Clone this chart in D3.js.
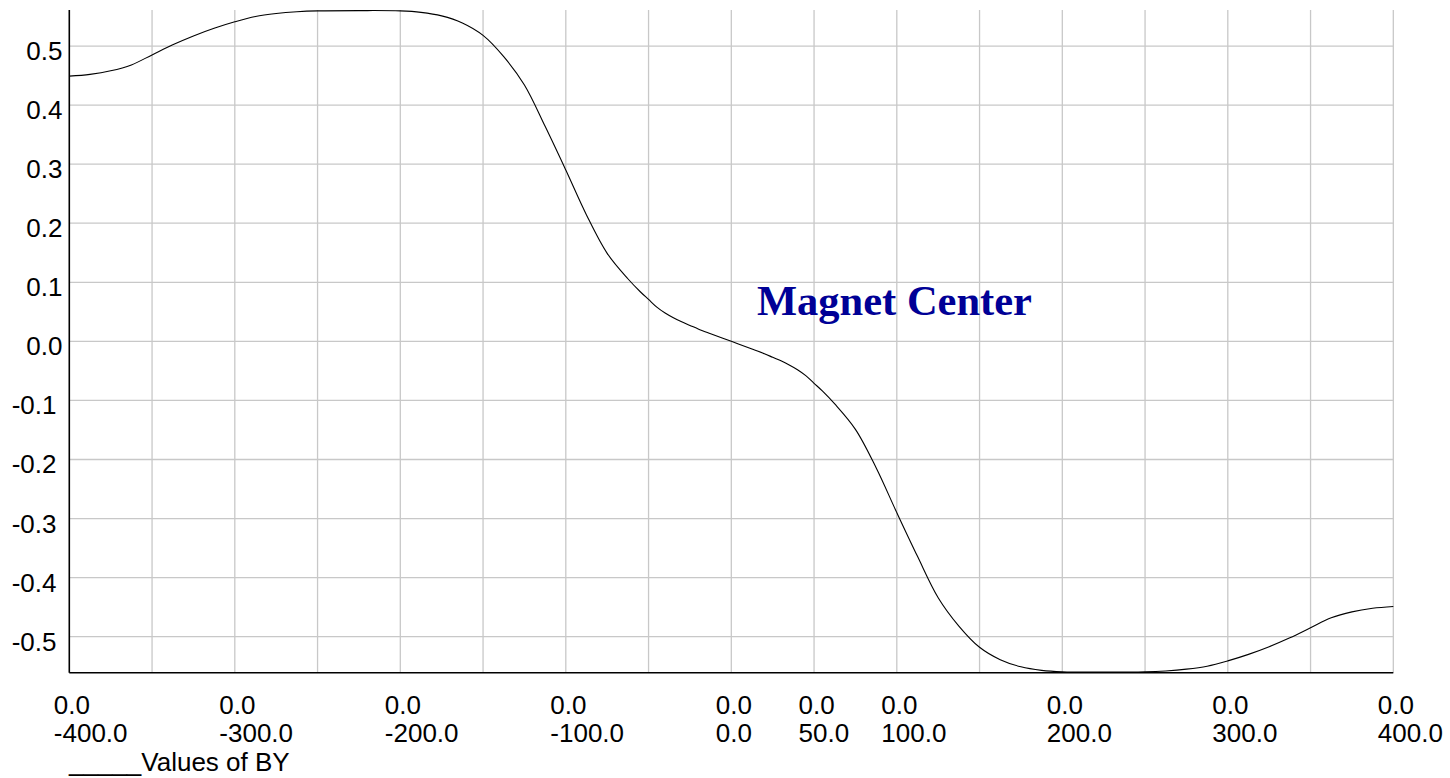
<!DOCTYPE html>
<html>
<head>
<meta charset="utf-8">
<script src="https://cdn.jsdelivr.net/npm/d3@7"></script>
<style>
  html, body { margin: 0; padding: 0; background: #fff; }
  svg { display: block; }
</style>
</head>
<body>
<svg id="chart" width="1450" height="778"></svg>
<script>
// ---- data ----
const posX = [-400, -387.5, -375, -362.5, -350, -337.5, -325, -312.5, -300, -287.5, -275, -262.5, -250, -225, -200, -187.5, -175, -162.5, -150, -137.5, -125, -112.5, -100, -87.5, -75, -62.5, -55, -50, -45, -40, -35, -30, -25, -20, -12.5, 0,
              12.5, 20, 25, 30, 35, 40, 45, 50, 55, 62.5, 75, 87.5, 100, 112.5, 125, 137.5, 150, 162.5, 175, 187.5, 200, 225, 250, 262.5, 275, 287.5, 300, 312.5, 325, 337.5, 350, 362.5, 375, 387.5, 400];
const byValues = [0.449, 0.452, 0.458, 0.468, 0.485, 0.502, 0.517, 0.530, 0.541, 0.550, 0.555, 0.558, 0.5595, 0.560, 0.5595, 0.557, 0.551, 0.539, 0.518, 0.482, 0.434, 0.364, 0.290, 0.214, 0.149, 0.106, 0.084, 0.071, 0.058, 0.048, 0.040, 0.033, 0.027, 0.021, 0.013, 0.000,
                  -0.013, -0.021, -0.027, -0.033, -0.040, -0.048, -0.058, -0.071, -0.084, -0.106, -0.149, -0.214, -0.290, -0.364, -0.434, -0.482, -0.518, -0.539, -0.551, -0.557, -0.5595, -0.560, -0.5595, -0.558, -0.555, -0.550, -0.541, -0.530, -0.517, -0.502, -0.485, -0.468, -0.458, -0.452, -0.449];
const xGridTicks = [-350, -300, -250, -200, -150, -100, -50, 0, 50, 100, 150, 200, 250, 300, 350, 400];
const xLabelTicks = [-400, -300, -200, -100, 0, 50, 100, 200, 300, 400];
const yTicks = [0.5, 0.4, 0.3, 0.2, 0.1, 0.0, -0.1, -0.2, -0.3, -0.4, -0.5];
const xDomain = [-400, 400];
const yDomain = [-0.561, 0.561];
const annotation = "Magnet Center";
const legendLabel = "_____Values of BY";

// ---- layout ----
const plotL = 69.3, plotR = 1393.3, plotT = 10, plotB = 672.7;
const sans = "'Liberation Sans', Arial, sans-serif";
const serif = "'Liberation Serif', 'Times New Roman', serif";
const fmt = v => d3.format(".1f")(v).replace("\u2212", "-");
const svg = d3.select("#chart");
const x = d3.scaleLinear().domain(xDomain).range([plotL, plotR]);
const y = d3.scaleLinear().domain(yDomain).range([plotB, plotT]);

// grid
const grid = svg.append("g").attr("stroke", "#c8c8c8").attr("stroke-width", 1.3);
grid.append("g").selectAll("line").data(yTicks).join("line")
  .attr("x1", plotL).attr("x2", plotR)
  .attr("y1", d => y(d)).attr("y2", d => y(d));
grid.append("g").selectAll("line").data(xGridTicks).join("line")
  .attr("x1", d => x(d)).attr("x2", d => x(d))
  .attr("y1", plotT).attr("y2", plotB);

// y labels
svg.append("g").selectAll("text").data(yTicks).join("text")
  .attr("x", d => d < 0 ? 56.5 : 62.5)
  .attr("y", d => y(d) + 14)
  .attr("text-anchor", "end")
  .style("font-family", sans)
  .style("font-size", "26px")
  .attr("fill", "#000")
  .text(d => fmt(d));

// x labels (two rows)
svg.append("g").selectAll("text").data(xLabelTicks).join("text")
  .attr("x", d => x(d) - 15.5)
  .attr("y", 714)
  .style("font-family", sans)
  .style("font-size", "26px")
  .attr("fill", "#000")
  .text("0.0");
svg.append("g").selectAll("text").data(xLabelTicks).join("text")
  .attr("x", d => x(d) - 15.5)
  .attr("y", 742)
  .style("font-family", sans)
  .style("font-size", "26px")
  .attr("fill", "#000")
  .text(d => fmt(d));

// axes lines
svg.append("line").attr("x1", plotL).attr("x2", plotL).attr("y1", plotT).attr("y2", plotB)
  .attr("stroke", "#000").attr("stroke-width", 1.6);
svg.append("line").attr("x1", plotL).attr("x2", plotR).attr("y1", plotB).attr("y2", plotB)
  .attr("stroke", "#000").attr("stroke-width", 1.6);

// curve
const pts = posX.map((d, i) => [d, byValues[i]]);
svg.append("path")
  .datum(pts)
  .attr("fill", "none")
  .attr("stroke", "#000")
  .attr("stroke-width", 1.1)
  .attr("d", d3.line().x(d => x(d[0])).y(d => y(d[1])).curve(d3.curveCatmullRom.alpha(0.5)));

// annotation
svg.append("text")
  .attr("x", 757)
  .attr("y", 315)
  .style("font-family", serif)
  .style("font-weight", "bold")
  .style("font-size", "42.5px")
  .attr("fill", "#000096")
  .text(annotation);

// legend
svg.append("text")
  .attr("x", 69)
  .attr("y", 771)
  .style("font-family", sans)
  .style("font-size", "26px")
  .attr("fill", "#000")
  .text(legendLabel);
</script>
</body>
</html>
